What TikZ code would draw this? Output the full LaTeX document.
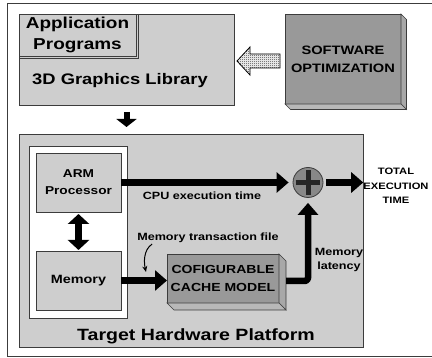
\documentclass[tikz,border=0pt]{standalone}
\usepackage{fontspec}
\setmainfont{Liberation Sans}[FakeStretch=1.2]
\usetikzlibrary{calc, arrows.meta, patterns}

\definecolor{boxgray}{RGB}{206,206,206}
\definecolor{darkbox}{RGB}{153,153,153}
\definecolor{sumgray}{RGB}{136,136,136}
\definecolor{edgegray}{RGB}{60,60,60}

% dense checker dots for the optimization arrow
\pgfdeclarepatternformonly{finedots}{\pgfpointorigin}{\pgfpoint{2pt}{2pt}}{\pgfpoint{2pt}{2pt}}{%
  \pgfpathrectangle{\pgfpointorigin}{\pgfpoint{1pt}{1pt}}%
  \pgfpathrectangle{\pgfpoint{1pt}{1pt}}{\pgfpoint{1pt}{1pt}}%
  \pgfusepath{fill}}

% side and bottom faces of a raised box
\newcommand{\slab}[2]{%
  \filldraw[draw=edgegray, line width=0.6pt, fill=darkbox!85!white] (#1.north east) -- ++(#2,#2) -- ($(#1.south east)+(#2,#2)$) -- (#1.south east) -- cycle;
  \filldraw[draw=edgegray, line width=0.6pt, fill=darkbox!70!white] (#1.south west) -- ++(#2,#2) -- ($(#1.south east)+(#2,#2)$) -- (#1.south east) -- cycle;}

\begin{document}
\begin{tikzpicture}[x=1pt, y=-1pt,
    box/.style={draw=edgegray, fill=boxgray, line width=0.8pt, inner sep=0pt, outer sep=0pt, align=center, font=\bfseries},
    lbl/.style={inner sep=0pt, align=center, font=\bfseries\fontsize{10.5}{14}\selectfont},
    bigarrow/.style={line width=6.5pt, -{Triangle[length=12pt,width=20pt]}}]
	\useasboundingbox (0,0) rectangle (432,358);
	\draw[edgegray, line width=0.8pt] (433,3) -- (7,3) -- (7,356) -- (433,356);

	% software side
	\node (lib) [box, minimum width=215, minimum height=91] at (126.5,59.5){};
	\draw[edgegray, line width=0.8pt] (lib.north west) ++(119,0) -- ++(0,44) -- ++(-119,0);
	\node (app) [box, minimum width=117, minimum height=42, font=\bfseries\fontsize{15.8}{21}\selectfont] at (77.5,35){Application\\Programs};
	\node (liblbl) [inner sep=0pt, font=\bfseries\fontsize{15.3}{18}\selectfont] at (120,81){3D Graphics Library};

	\node (sw) [box, fill=darkbox, minimum width=116, minimum height=90, font=\bfseries\fontsize{12.2}{18}\selectfont] at (343,59){SOFTWARE\\OPTIMIZATION};
	\slab{sw}{5.5}

	\coordinate (opttip) at (237,61);
	\draw[black, line width=0.8pt, pattern=finedots, pattern color=black!80] (opttip) -- ++(13,-14) -- ++(0,7) -- ++(30,0) -- ++(0,14) -- ++(-30,0) -- ++(0,7) -- cycle;

	% hardware platform
	\node (hw) [box, minimum width=344, minimum height=213] at (191,240.5){};
	\draw[line width=6pt, -{Triangle[length=8pt,width=20pt]}, shorten <=7pt, shorten >=7pt] (lib.south) -- (lib.south |- hw.north);
	\node (core) [box, fill=white, minimum width=98, minimum height=172] at (78,232){};
	\node (arm) [box, minimum width=85, minimum height=59, font=\bfseries\fontsize{11.4}{17}\selectfont] at (78.5,182.5){ARM\\Processor};
	\node (mem) [box, minimum width=85, minimum height=59, font=\bfseries\fontsize{12}{14}\selectfont] at (78.5,280.5){Memory};
	\node (cache) [box, fill=darkbox, minimum width=112, minimum height=49, font=\bfseries\fontsize{11.7}{17.5}\selectfont] at (223,278.5){COFIGURABLE\\CACHE MODEL};
	\slab{cache}{7}
	\node (sum) [circle, draw=edgegray, line width=0.8pt, fill=sumgray, minimum size=30, inner sep=0pt] at (308,182.5){};
	\draw[black!85, line width=5pt] ([yshift=-3pt]sum.north) -- ([yshift=3pt]sum.south);
	\draw[black!85, line width=5pt] ([xshift=3pt]sum.west) -- ([xshift=-3pt]sum.east);
	\node (hwlbl) [inner sep=0pt, font=\bfseries\fontsize{16.3}{18}\selectfont] at (196,336){Target Hardware Platform};

	\node (total) [lbl, font=\bfseries\fontsize{9.3}{14.5}\selectfont] at (396,186){TOTAL\\EXECUTION\\TIME};
	\node (cpulbl) [lbl] at (202,196){CPU execution time};
	\node (trlbl) [lbl] at (208,238){Memory transaction file};
	\node (latlbl) [lbl] at (339,260){Memory\\latency};

	\draw[bigarrow] (arm.east) -- ([xshift=-4pt]sum.west);
	\draw[bigarrow, shorten <=3pt] (sum.east) -- (sum.east -| total.west);
	\draw[bigarrow, {Triangle[length=10pt,width=21pt]}-{Triangle[length=10pt,width=21pt]}, shorten <=2pt, shorten >=1pt] (arm.south) -- (mem.north);
	\draw[bigarrow] (mem.east) -- (mem.east -| cache.west);
	\draw[bigarrow, line join=round, rounded corners=3pt, shorten >=5pt] ([xshift=7pt, yshift=-2.5pt]cache.east) -| (sum.south);

	\coordinate (trpt) at (146,272);
	\draw[line width=1pt, -{Stealth[length=6pt,width=5pt]}] ([xshift=15pt, yshift=-1pt]trlbl.south west) .. controls +(-9,6) and +(-2,-9) .. (trpt);
\end{tikzpicture}
\end{document}
